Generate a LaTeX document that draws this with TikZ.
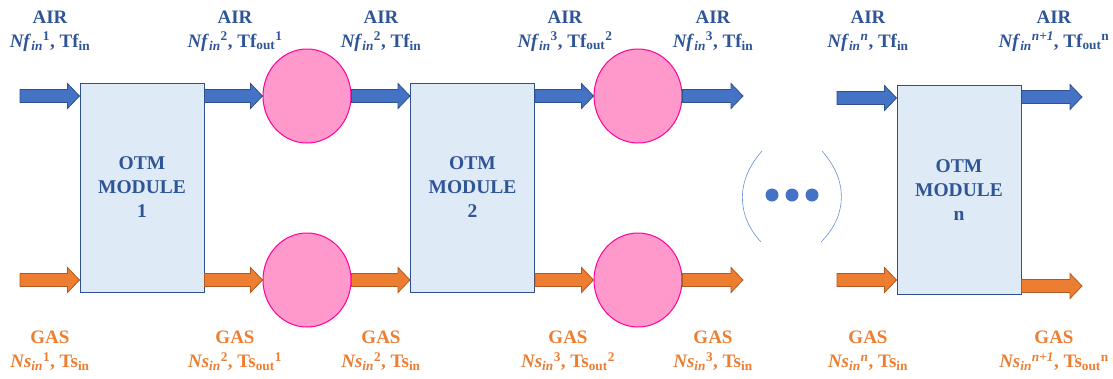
\documentclass[tikz,border=0pt]{standalone}
\usepackage{fontspec}
\setmainfont{Liberation Serif}
\usetikzlibrary{calc,shapes.geometric}
\definecolor{airblue}{HTML}{4472C4}
\definecolor{airedge}{HTML}{2F528F}
\definecolor{airtext}{HTML}{2F5597}
\definecolor{gasorange}{HTML}{ED7D31}
\definecolor{gasedge}{HTML}{AE5A21}
\definecolor{modfill}{HTML}{DEEBF7}
\definecolor{mixfill}{HTML}{FF99CC}
\definecolor{mixedge}{HTML}{FF0099}

\tikzset{
  module/.style={draw=airedge, fill=modfill, line width=1pt, minimum width=124pt, minimum height=209pt,
    align=center, text=airtext, font=\bfseries\fontsize{19.5}{24}\selectfont},
  mixer/.style={ellipse, draw=mixedge, fill=mixfill, line width=1pt, minimum width=88pt, minimum height=94pt, inner sep=0pt},
  airlabel/.style={align=center, text=airtext, font=\bfseries\fontsize{19}{24}\selectfont, inner sep=0pt},
  gaslabel/.style={airlabel, text=gasorange},
  airflow/.style={fill=airblue, draw=airedge, line width=0.8pt},
  gasflow/.style={fill=gasorange, draw=gasedge, line width=0.8pt},
}
% block arrow between two points, same height as the first one
\newcommand{\flowarrow}[3][airflow]{%
  \path[#1] let \p1=(#2), \p2=(#3) in
    (\x1,\y1+6.5pt) -- (\x2-12pt,\y1+6.5pt) -- (\x2-12pt,\y1+12.5pt) -- (\x2,\y1)
    -- (\x2-12pt,\y1-12.5pt) -- (\x2-12pt,\y1-6.5pt) -- (\x1,\y1-6.5pt) -- cycle;}
\newcommand{\flowN}[2]{\textit{N#1}\textsubscript{\textit{in}}\textsuperscript{#2}}
\newcommand{\flowTout}[2]{T#1\textsubscript{out}\textsuperscript{#2}}
\newcommand{\flowTin}[1]{T#1\textsubscript{in}}

\begin{document}
\begin{tikzpicture}[x=1pt,y=-1pt]
  \useasboundingbox (0,0) rectangle (1113,378);
  % modules and mixers
  \node[module] (m1) at (142,187.5) {OTM\\MODULE\\1};
  \node[module] (m2) at (472.5,187.5) {OTM\\MODULE\\2};
  \node[module] (mn) at (959,190) {OTM\\MODULE\\n};
  \node[mixer] (c1t) at (307,96) {};
  \node[mixer] (c1b) at (307,280) {};
  \node[mixer] (c2t) at (638,96) {};
  \node[mixer] (c2b) at (638,280) {};
  % free ends
  \coordinate (a0) at (20,96);
  \coordinate (g0) at (20,280);
  \coordinate (a2) at (743,96);
  \coordinate (g2) at (743,280);
  \coordinate (as) at (837,98);
  \coordinate (gs) at (837,280);
  \coordinate (ae) at (1082,97);
  \coordinate (ge) at (1082,286);
  % air
  \flowarrow{a0}{a0 -| m1.west}
  \flowarrow{c1t.west -| m1.east}{c1t.west}
  \flowarrow{c1t.east}{c1t.east -| m2.west}
  \flowarrow{c2t.west -| m2.east}{c2t.west}
  \flowarrow{c2t.east}{a2}
  \flowarrow{as}{as -| mn.west}
  \flowarrow{ae -| mn.east}{ae}
  % gas
  \flowarrow[gasflow]{g0}{g0 -| m1.west}
  \flowarrow[gasflow]{c1b.west -| m1.east}{c1b.west}
  \flowarrow[gasflow]{c1b.east}{c1b.east -| m2.west}
  \flowarrow[gasflow]{c2b.west -| m2.east}{c2b.west}
  \flowarrow[gasflow]{c2b.east}{g2}
  \flowarrow[gasflow]{gs}{gs -| mn.west}
  \flowarrow[gasflow]{ge -| mn.east}{ge}
  % dots in brackets
  \foreach \i/\x in {1/772,2/792,3/812}
    \node[circle, fill=airblue, inner sep=0pt, minimum size=13pt] (dot\i) at (\x,195) {};
  \draw[airblue!80, line width=0.6pt] (762,151) .. controls (736,180) and (736,215) .. (761,242);
  \draw[airblue!80, line width=0.6pt] (822,151) .. controls (848,180) and (848,215) .. (821,242);
  % labels
  \node[airlabel] (fl1) at (50,31) {AIR\\\flowN{f}{1}, \flowTin{f}};
  \node[airlabel] (fl2) at (235,31) {AIR\\\flowN{f}{2}, \flowTout{f}{1}};
  \node[airlabel] (fl3) at (381,31) {AIR\\\flowN{f}{2}, \flowTin{f}};
  \node[airlabel] (fl4) at (565,31) {AIR\\\flowN{f}{3}, \flowTout{f}{2}};
  \node[airlabel] (fl5) at (713,31) {AIR\\\flowN{f}{3}, \flowTin{f}};
  \node[airlabel] (fl6) at (868,31) {AIR\\\flowN{f}{\textit{n}}, \flowTin{f}};
  \node[airlabel] (fl7) at (1054,31) {AIR\\\flowN{f}{\textit{n+1}}, \flowTout{f}{n}};
  \node[gaslabel] (sl1) at (50,351) {GAS\\\flowN{s}{1}, \flowTin{s}};
  \node[gaslabel] (sl2) at (235,351) {GAS\\\flowN{s}{2}, \flowTout{s}{1}};
  \node[gaslabel] (sl3) at (381,351) {GAS\\\flowN{s}{2}, \flowTin{s}};
  \node[gaslabel] (sl4) at (568,351) {GAS\\\flowN{s}{3}, \flowTout{s}{2}};
  \node[gaslabel] (sl5) at (713,351) {GAS\\\flowN{s}{3}, \flowTin{s}};
  \node[gaslabel] (sl6) at (868,351) {GAS\\\flowN{s}{\textit{n}}, \flowTin{s}};
  \node[gaslabel] (sl7) at (1054,351) {GAS\\\flowN{s}{\textit{n+1}}, \flowTout{s}{n}};
\end{tikzpicture}
\end{document}
